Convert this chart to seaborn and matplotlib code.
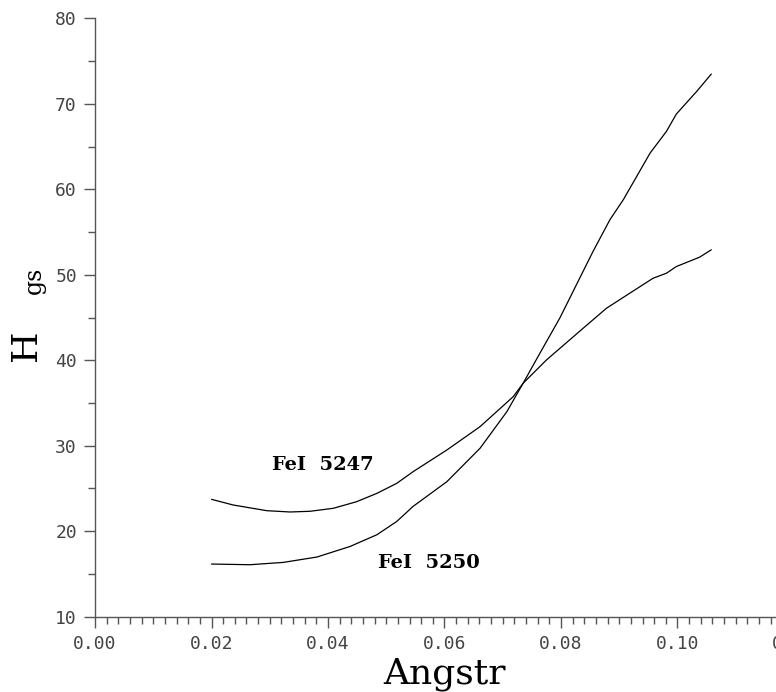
import matplotlib
matplotlib.use("Agg")
import matplotlib.pyplot as plt
from matplotlib.ticker import MultipleLocator, FormatStrFormatter
import seaborn as sns
import pandas as pd

# ---- data ----
x_5247 = [0.0200, 0.0237, 0.0295, 0.0335, 0.0369, 0.0409, 0.0449, 0.0484, 0.0518,
          0.0546, 0.0604, 0.0661, 0.0718, 0.0735, 0.0775, 0.0838, 0.0878, 0.0918,
          0.0958, 0.0981, 0.0998, 0.1038, 0.1058]
y_5247 = [23.73, 23.07, 22.40, 22.25, 22.33, 22.68, 23.45, 24.43, 25.60,
          26.96, 29.50, 32.23, 35.74, 37.31, 40.03, 43.74, 46.08, 47.84,
          49.59, 50.18, 50.96, 52.06, 52.92]

x_5250 = [0.0200, 0.0266, 0.0323, 0.0381, 0.0438, 0.0484, 0.0518, 0.0546, 0.0604,
          0.0661, 0.0707, 0.0735, 0.0764, 0.0798, 0.0855, 0.0884, 0.0907, 0.0953,
          0.0981, 0.0998, 0.1033, 0.1058]
y_5250 = [16.16, 16.08, 16.35, 16.98, 18.22, 19.59, 21.14, 22.90, 25.79,
          29.70, 33.98, 37.31, 40.85, 44.94, 52.73, 56.44, 58.78, 64.24,
          66.77, 68.80, 71.45, 73.48]

series_names = ["FeI  5247", "FeI  5250"]
label_pos_x = [0.0304, 0.0486]
label_pos_y = [27.16, 15.70]

x_label = "Angstr"
y_label_main = "H"
y_label_extra = "gs"

df = pd.concat([
    pd.DataFrame({"x": x_5247, "y": y_5247, "line": series_names[0]}),
    pd.DataFrame({"x": x_5250, "y": y_5250, "line": series_names[1]}),
], ignore_index=True)

sns.set_style("ticks")
plt.rcParams["font.family"] = ["DejaVu Sans"]

fig = plt.figure(figsize=(7.76, 6.92), dpi=100)
ax = fig.add_axes([95 / 776, (692 - 616.7) / 692, 699 / 776, 598.4 / 692])

sns.lineplot(data=df, x="x", y="y", units="line", estimator=None, sort=False,
             color="black", linewidth=0.9, ax=ax, legend=False)

ax.set_xlim(0.0, 0.12)
ax.set_ylim(10, 80)

axis_col = "#555555"
for side in ["top", "right"]:
    ax.spines[side].set_visible(False)
for side in ["left", "bottom"]:
    ax.spines[side].set_color(axis_col)
    ax.spines[side].set_linewidth(1.0)

ax.xaxis.set_major_locator(MultipleLocator(0.02))
ax.xaxis.set_minor_locator(MultipleLocator(0.002))
ax.yaxis.set_major_locator(MultipleLocator(10))
ax.yaxis.set_minor_locator(MultipleLocator(5))
ax.xaxis.set_major_formatter(FormatStrFormatter("%.2f"))
ax.yaxis.set_major_formatter(FormatStrFormatter("%d"))

ax.tick_params(which="major", direction="out", length=8, width=1.0, color=axis_col,
               labelcolor="#444444", pad=5)
ax.tick_params(which="minor", direction="out", length=5, width=1.0, color=axis_col)
for lab in ax.get_xticklabels() + ax.get_yticklabels():
    lab.set_family("DejaVu Sans Mono")
    lab.set_fontsize(13)
    lab.set_fontweight("light")

ax.set_xlabel(x_label, family="DejaVu Serif", fontsize=26, color="black", labelpad=3)
ax.set_ylabel(y_label_main, family="DejaVu Serif", fontsize=26, color="black")
ax.yaxis.set_label_coords(-0.0751, 0.454)
ax.text(-0.0866, 0.562, y_label_extra, transform=ax.transAxes, rotation=90,
        family="DejaVu Serif", fontsize=17, ha="center", va="center", color="black",
        clip_on=False)

for name, lx, ly in zip(series_names, label_pos_x, label_pos_y):
    ax.text(lx, ly, name, family="DejaVu Serif", fontsize=14, fontweight="bold",
            ha="left", va="baseline", color="black")

fig.savefig("out.png", dpi=100)
